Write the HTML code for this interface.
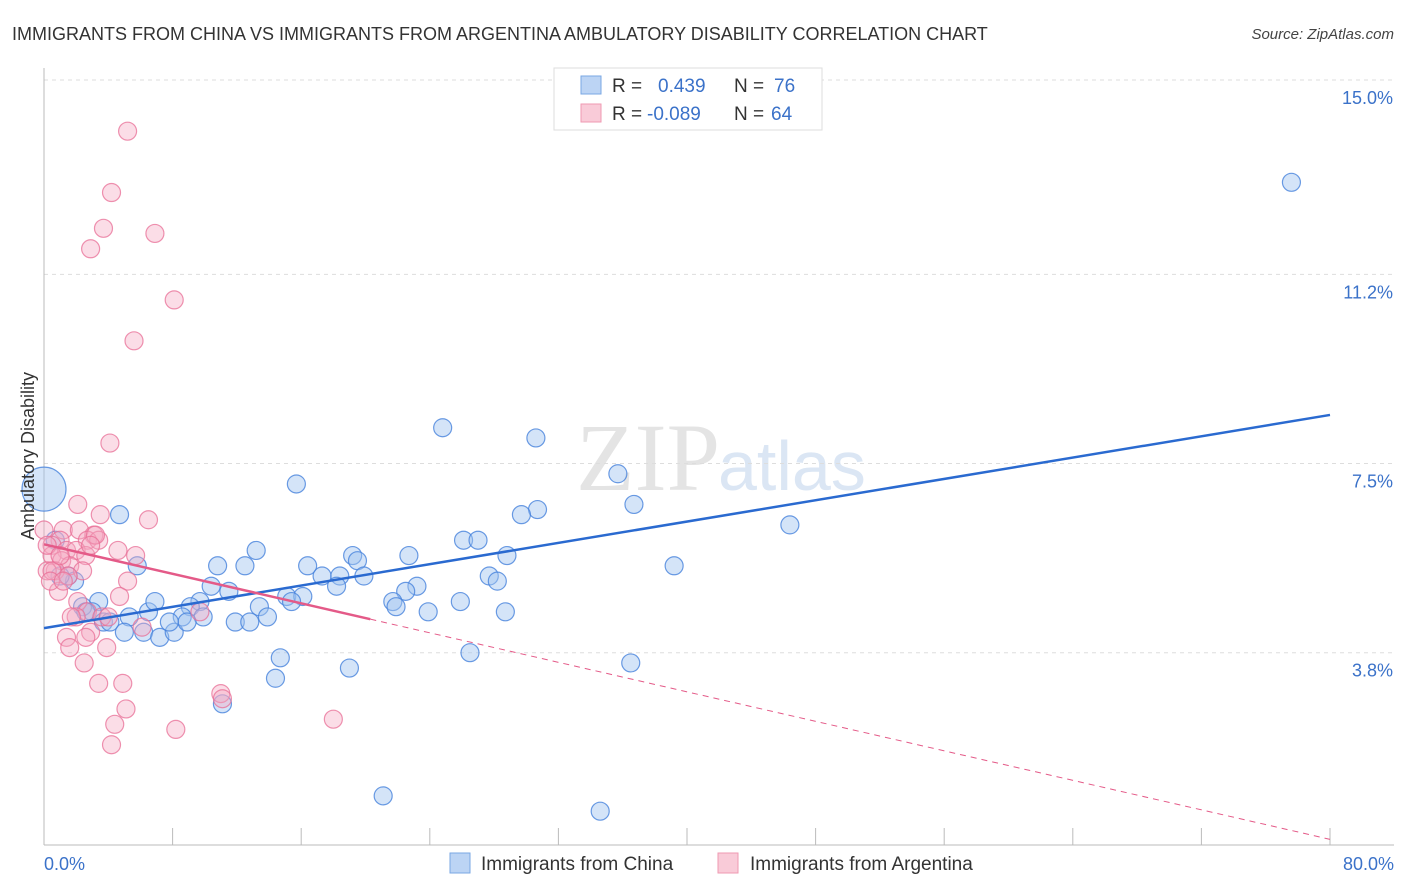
<!DOCTYPE html>
<html><head><meta charset="utf-8"><style>
body{margin:0;background:#fff;font-family:"Liberation Sans",sans-serif;}
svg{display:block}
</style></head><body>
<svg id="chart" width="1406" height="892" xmlns="http://www.w3.org/2000/svg">
<text x="12" y="40" font-size="18" fill="#333">IMMIGRANTS FROM CHINA VS IMMIGRANTS FROM ARGENTINA AMBULATORY DISABILITY CORRELATION CHART</text>
<text x="1394" y="39" font-size="15" fill="#444" font-style="italic" text-anchor="end">Source: ZipAtlas.com</text>
<text x="720" y="490" font-size="96" fill="#e4e4e4" font-family="Liberation Serif" text-anchor="end">ZIP</text>
<text x="718" y="490" font-size="70" fill="#dbe6f4">atlas</text>
<g id="grid"></g>
<g id="axes"></g>
<g id="pts"></g>
<g id="lines"></g>
<text transform="translate(34,456) rotate(-90)" font-size="18" fill="#333" text-anchor="middle">Ambulatory Disability</text>
<text x="44" y="870" font-size="18" fill="#3b72c9">0.0%</text>
<text x="1394" y="870" font-size="18" fill="#3b72c9" text-anchor="end">80.0%</text>
<g>
<rect x="554" y="68" width="268" height="62" fill="#fff" stroke="#ddd"/>
<rect x="581" y="76" width="20" height="18" fill="#bcd4f4" stroke="#7aa7e3"/>
<rect x="581" y="104" width="20" height="18" fill="#f9cbd8" stroke="#ef9ab2"/>
<text x="612" y="92" font-size="19" fill="#333">R =  <tspan fill="#3b72c9" x="658">0.439</tspan><tspan x="734" fill="#333">N = </tspan><tspan fill="#3b72c9" x="774">76</tspan></text>
<text x="612" y="120" font-size="19" fill="#333">R = <tspan fill="#3b72c9" x="647">-0.089</tspan><tspan x="734" fill="#333">N = </tspan><tspan fill="#3b72c9" x="771">64</tspan></text>
</g>
<g>
<rect x="450" y="853" width="20" height="20" fill="#bcd4f4" stroke="#7aa7e3"/>
<text x="481" y="870" font-size="19" fill="#333">Immigrants from China</text>
<rect x="718" y="853" width="20" height="20" fill="#f9cbd8" stroke="#ef9ab2"/>
<text x="750" y="870" font-size="19" fill="#333">Immigrants from Argentina</text>
</g>
</svg>
<script>
const yTicks=[15.0,11.2,7.5,3.8];
const yTickLabels=["15.0%","11.2%","7.5%","3.8%"];
const xTicks=[0,8,16,24,32,40,48,56,64,72,80];
const chinaX=[77.6,24.8,30.6,15.7,35.7,36.7,30.7,29.7,46.4,4.7,26.1,27.0,22.7,28.8,39.2,19.2,19.5,13.2,10.8,12.5,16.4,17.3,18.4,19.9,27.7,28.2,23.2,22.5,18.2,10.4,11.5,15.1,16.1,15.4,21.7,21.9,25.9,23.9,28.7,13.4,13.9,11.9,12.8,9.7,9.1,8.6,9.9,6.5,6.9,5.3,3.4,3.0,3.7,4.1,2.4,2.6,5.0,6.2,7.2,8.1,8.9,7.8,14.7,14.4,19.0,26.5,36.5,11.1,21.1,34.6,5.8,1.5,1.9,1.0,0.7,0.0];
const chinaY=[13.0,8.2,8.0,7.1,7.3,6.7,6.6,6.5,6.3,6.5,6.0,6.0,5.7,5.7,5.5,5.7,5.6,5.8,5.5,5.5,5.5,5.3,5.3,5.3,5.3,5.2,5.1,5.0,5.1,5.1,5.0,4.9,4.9,4.8,4.8,4.7,4.8,4.6,4.6,4.7,4.5,4.4,4.4,4.8,4.7,4.5,4.5,4.6,4.8,4.5,4.8,4.6,4.4,4.4,4.7,4.6,4.2,4.2,4.1,4.2,4.4,4.4,3.7,3.3,3.5,3.8,3.6,2.8,1.0,0.7,5.5,5.3,5.2,5.3,6.0,7.0];
const argX=[5.2,4.2,3.7,6.9,2.9,8.1,5.6,4.1,2.1,6.5,3.5,1.2,2.2,3.1,2.7,3.4,1.0,0.5,1.4,2.0,4.6,5.7,0.5,1.1,2.6,1.6,2.4,0.7,0.2,5.2,1.5,4.7,0.9,2.1,2.7,3.6,4.0,2.0,6.1,2.9,1.4,1.6,3.9,2.5,3.4,4.9,5.1,4.4,11.0,11.1,8.2,18.0,4.2,9.7,0.0,0.2,0.5,1.0,1.7,2.6,0.4,1.2,3.2,2.9];
const argY=[14.0,12.8,12.1,12.0,11.7,10.7,9.9,7.9,6.7,6.4,6.5,6.2,6.2,6.1,6.0,6.0,6.0,5.9,5.8,5.8,5.8,5.7,5.7,5.6,5.7,5.5,5.4,5.4,5.4,5.2,5.3,4.9,5.0,4.8,4.6,4.5,4.5,4.5,4.3,4.2,4.1,3.9,3.9,3.6,3.2,3.2,2.7,2.4,3.0,2.9,2.3,2.5,2.0,4.6,6.2,5.9,5.4,5.7,4.5,4.1,5.2,5.2,6.1,5.9];
const chinaFit=[4.28,8.45];
const argFit=[5.92,0.15];
const X=v=>44+v*16.075, Y=v=>847-v*51.13;
const NS="http://www.w3.org/2000/svg";
function mk(tag,attrs,parent){const e=document.createElementNS(NS,tag);for(const k in attrs)e.setAttribute(k,attrs[k]);parent.appendChild(e);return e;}
const grid=document.getElementById('grid'),axes=document.getElementById('axes'),pts=document.getElementById('pts'),lines=document.getElementById('lines');
yTicks.forEach((t,i)=>{
 const l=mk('line',{x1:44,x2:1394,y1:Y(t),y2:Y(t),stroke:'#ddd','stroke-dasharray':'4,4'},grid);
 
 
 const tx=mk('text',{x:1393,y:Y(t)+24,'font-size':18,fill:'#3b72c9','text-anchor':'end'},grid);
 tx.textContent=yTickLabels[i];
 
 
});
const ya=mk('line',{x1:44,x2:44,y1:68,y2:845,stroke:'#bbb'},axes);


const xa=mk('line',{x1:44,x2:1394,y1:845,y2:845,stroke:'#bbb'},axes);


xTicks.forEach(t=>{
 const l=mk('line',{x1:X(t),x2:X(t),y1:828,y2:845,stroke:'#bbb'},axes);
 
 
});
chinaX.forEach((v,i)=>{
 const big=(i===chinaX.length-1);
 const c=mk('circle',{cx:X(v),cy:Y(chinaY[i]),r:big?22:9,fill:'rgba(160,195,240,0.45)',stroke:'rgba(70,130,220,0.8)','stroke-width':1.2},pts);
 
 
});
argX.forEach((v,i)=>{
 const c=mk('circle',{cx:X(v),cy:Y(argY[i]),r:9,fill:'rgba(245,170,195,0.4)',stroke:'rgba(232,110,150,0.75)','stroke-width':1.2},pts);
 
 
});
const bl=mk('line',{x1:X(0),y1:Y(chinaFit[0]),x2:X(80),y2:Y(chinaFit[1]),stroke:'#2a6ad0','stroke-width':2.5},lines);


const ay=v=>argFit[0]+(argFit[1]-argFit[0])*v/80;
const pl=mk('line',{x1:X(0),y1:Y(ay(0)),x2:X(20.3),y2:Y(ay(20.3)),stroke:'#e45a88','stroke-width':2.5},lines);


const pd=mk('line',{x1:X(20.3),y1:Y(ay(20.3)),x2:X(80),y2:Y(ay(80)),stroke:'#e45a88','stroke-width':1,'stroke-dasharray':'6,5'},lines);


</script>
</body></html>
